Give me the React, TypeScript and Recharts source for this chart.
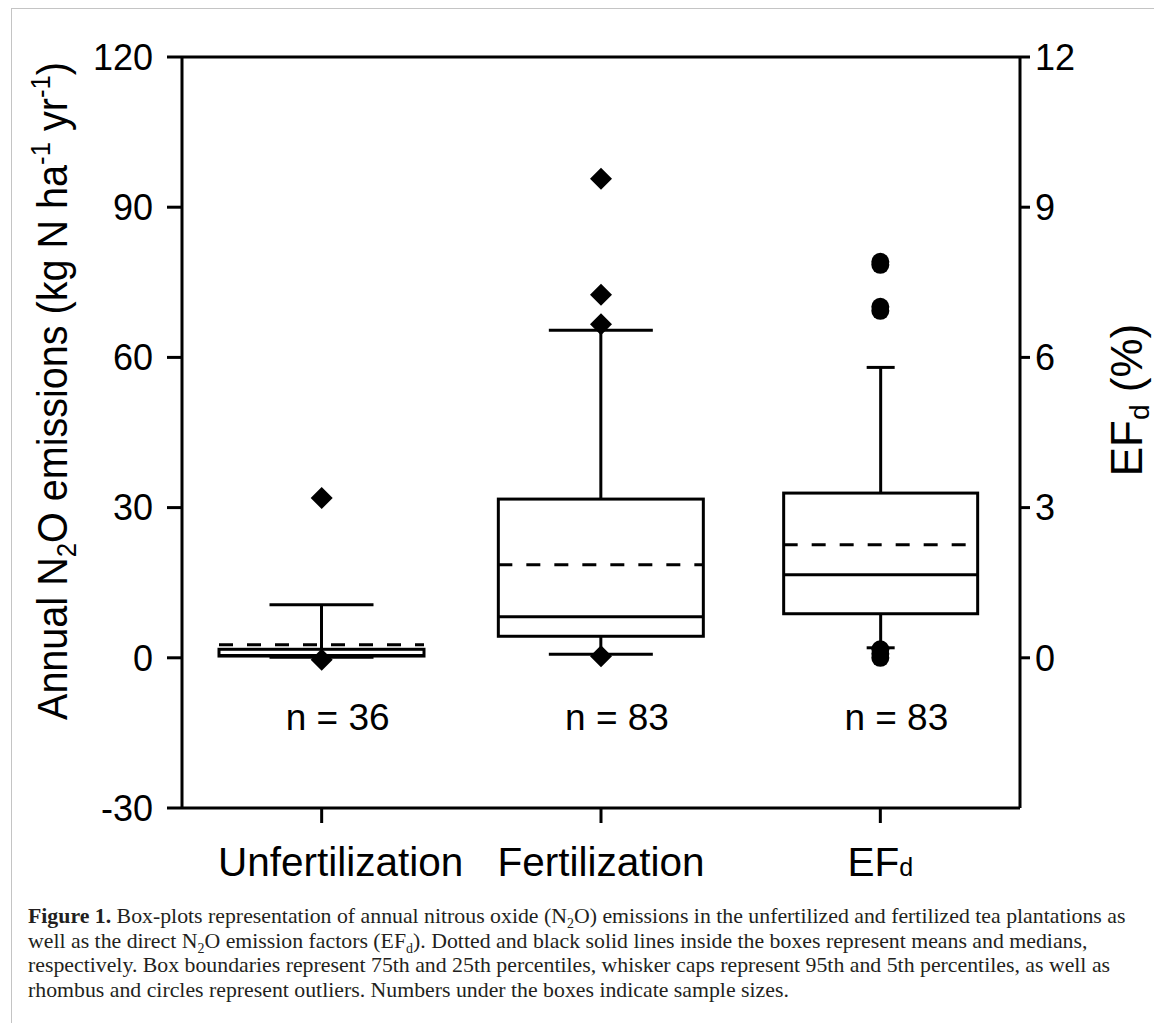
import React from 'react';
import { ComposedChart, Bar, Scatter, XAxis, YAxis, ReferenceLine } from 'recharts';

// ---------- data ----------
const categories = ['Unfertilization', 'Fertilization', 'EFd'];
const sampleSizes = [36, 83, 83];

// Annual N2O emissions (kg N ha-1 yr-1), left axis
const emissionCategories = ['Unfertilization', 'Fertilization'];
const emissionP5 = [0.1, 0.7];
const emissionQ1 = [0.35, 4.3];
const emissionMedian = [0.45, 8.2];
const emissionMean = [2.6, 18.6];
const emissionQ3 = [1.7, 31.7];
const emissionP95 = [10.6, 65.4];
const emissionOutliers = [
  [31.9, -0.4],
  [95.7, 72.5, 66.6, 0.3],
];

// EFd (%), right axis
const efP5 = 0.2;
const efQ1 = 0.88;
const efMedian = 1.66;
const efMean = 2.26;
const efQ3 = 3.29;
const efP95 = 5.8;
const efOutliers = [7.91, 7.85, 7.01, 6.93, 0.17, 0.08, 0.0];

const leftTicks = [-30, 0, 30, 60, 90, 120];
const rightTicks = [0, 3, 6, 9, 12];
const nLabelValue = -14.4;

// ---------- derived tables ----------
type Stats = { p5: number; q1: number; median: number; mean: number; q3: number; p95: number };

const chartData = categories.map((c) => {
  const ei = emissionCategories.indexOf(c);
  const emissionStats: Stats | null =
    ei >= 0
      ? {
          p5: emissionP5[ei],
          q1: emissionQ1[ei],
          median: emissionMedian[ei],
          mean: emissionMean[ei],
          q3: emissionQ3[ei],
          p95: emissionP95[ei],
        }
      : null;
  const efStats: Stats | null =
    c === 'EFd' ? { p5: efP5, q1: efQ1, median: efMedian, mean: efMean, q3: efQ3, p95: efP95 } : null;
  return {
    category: c,
    emissionBox: emissionStats ? [emissionStats.q1, emissionStats.q3] : null,
    efBox: efStats ? [efStats.q1, efStats.q3] : null,
    emissionStats,
    efStats,
  };
});

const diamondPoints = emissionCategories.flatMap((c, i) =>
  emissionOutliers[i].map((v) => ({ category: c, value: v }))
);
const circlePoints = efOutliers.map((v) => ({ category: 'EFd', value: v }));
const nLabelPoints = categories.map((c, i) => ({ category: c, value: nLabelValue, n: sampleSizes[i] }));

// ---------- styles ----------
const capWidths: Record<string, number> = { Unfertilization: 104, Fertilization: 104, EFd: 28 };
const tickLabelShift: Record<string, number> = { Unfertilization: 19, Fertilization: 0, EFd: 0 };
const FONT = "'Liberation Sans', Arial, Helvetica, sans-serif";
const LW = 3;

const makeBoxShape = (statsKey: 'emissionStats' | 'efStats') => (props: any) => {
  const { x, y, width, height, payload } = props;
  const s: Stats | null = payload ? payload[statsKey] : null;
  if (!s || width == null || height == null) return <g />;
  const top = Math.min(y, y + height);
  const bottom = Math.max(y, y + height);
  const ppu = (bottom - top) / (s.q3 - s.q1);
  const yOf = (v: number) => bottom - (v - s.q1) * ppu;
  const cx = x + width / 2;
  const cap = capWidths[payload.category] ?? 100;
  return (
    <g>
      <line x1={cx} x2={cx} y1={top} y2={yOf(s.p95)} stroke="#000" strokeWidth={LW} />
      <line x1={cx} x2={cx} y1={bottom} y2={yOf(s.p5)} stroke="#000" strokeWidth={LW} />
      <line x1={cx - cap / 2} x2={cx + cap / 2} y1={yOf(s.p95)} y2={yOf(s.p95)} stroke="#000" strokeWidth={LW} />
      <line x1={cx - cap / 2} x2={cx + cap / 2} y1={yOf(s.p5)} y2={yOf(s.p5)} stroke="#000" strokeWidth={LW} />
      <rect x={x} y={top} width={width} height={bottom - top} fill="#fff" stroke="#000" strokeWidth={LW} />
      <line x1={x} x2={x + width} y1={yOf(s.median)} y2={yOf(s.median)} stroke="#000" strokeWidth={LW} />
      <line
        x1={x}
        x2={x + width}
        y1={yOf(s.mean)}
        y2={yOf(s.mean)}
        stroke="#000"
        strokeWidth={LW}
        strokeDasharray="14 14"
      />
    </g>
  );
};

const DiamondShape = (props: any) => {
  const { cx, cy } = props;
  if (cx == null || cy == null) return <g />;
  const r = 11;
  return <path d={`M${cx},${cy - r} L${cx + r},${cy} L${cx},${cy + r} L${cx - r},${cy} Z`} fill="#000" />;
};

const CircleShape = (props: any) => {
  const { cx, cy } = props;
  if (cx == null || cy == null) return <g />;
  return <circle cx={cx} cy={cy} r={9} fill="#000" />;
};

const NLabelShape = (props: any) => {
  const { cx, cy, payload } = props;
  if (cx == null || cy == null) return <g />;
  return (
    <text x={cx + 16} y={cy} textAnchor="middle" fontSize={37} fill="#000" fontFamily={FONT}>
      {`n = ${payload.n}`}
    </text>
  );
};

const XTick = (props: any) => {
  const { x, y, payload } = props;
  const v = payload.value as string;
  return (
    <text x={x + (tickLabelShift[v] ?? 0)} y={y + 51} textAnchor="middle" fontSize={40.5} fill="#000" fontFamily={FONT}>
      {v === 'EFd' ? (
        <>
          <tspan>EF</tspan>
          <tspan fontSize={25}>d</tspan>
        </>
      ) : (
        v
      )}
    </text>
  );
};

const LeftAxisLabel = (props: any) => {
  const vb = props.viewBox || { x: 0, y: 57 };
  const px = vb.x + 67;
  const py = vb.y + 334;
  return (
    <text
      x={px}
      y={py}
      transform={`rotate(-90 ${px} ${py})`}
      textAnchor="middle"
      fontSize={43}
      fill="#000"
      fontFamily={FONT}
      textLength={658}
      lengthAdjust="spacingAndGlyphs"
    >
      <tspan>Annual N</tspan>
      <tspan fontSize={28} dy={9}>2</tspan>
      <tspan dy={-9}>O emissions (kg N ha</tspan>
      <tspan fontSize={28} dy={-17}>-1</tspan>
      <tspan dy={17}> yr</tspan>
      <tspan fontSize={28} dy={-17}>-1</tspan>
      <tspan dy={17}>)</tspan>
    </text>
  );
};

const RightAxisLabel = (props: any) => {
  const vb = props.viewBox || { x: 1020, y: 57 };
  const px = vb.x + 122;
  const py = vb.y + 343;
  return (
    <text x={px} y={py} transform={`rotate(-90 ${px} ${py})`} textAnchor="middle" fontSize={44} fill="#000" fontFamily={FONT}>
      <tspan>EF</tspan>
      <tspan fontSize={28} dy={7}>d</tspan>
      <tspan dy={-7}> (%)</tspan>
    </text>
  );
};

export default function App() {
  return (
    <div style={{ position: 'absolute', left: 0, top: 0, width: 1154, height: 1023, background: '#fff', overflow: 'hidden' }}>
      <div style={{ position: 'absolute', left: 11, top: 8, width: 1143, height: 1, background: '#c4c4c4' }} />
      <div style={{ position: 'absolute', left: 11, top: 8, width: 1, height: 1015, background: '#c4c4c4' }} />
      <div style={{ position: 'absolute', left: 0, top: 0 }}>
        <ComposedChart
          width={1154}
          height={900}
          data={chartData}
          margin={{ top: 57, right: 0, bottom: 0, left: 0 }}
          style={{ fontFamily: FONT }}
        >
          <XAxis
            xAxisId="main"
            dataKey="category"
            type="category"
            allowDuplicatedCategory={false}
            height={92}
            tickSize={15}
            tickMargin={2}
            axisLine={{ stroke: '#000', strokeWidth: LW }}
            tickLine={{ stroke: '#000', strokeWidth: LW }}
            tick={<XTick />}
            interval={0}
          />
          <XAxis xAxisId="ef" dataKey="category" type="category" allowDuplicatedCategory={false} hide height={0} />
          <YAxis
            yAxisId="left"
            orientation="left"
            type="number"
            domain={[-30, 120]}
            ticks={leftTicks}
            interval={0}
            width={182}
            tickSize={15}
            tickMargin={14}
            axisLine={{ stroke: '#000', strokeWidth: LW }}
            tickLine={{ stroke: '#000', strokeWidth: LW }}
            tick={{ fill: '#000', fontSize: 36, fontFamily: FONT }}
            label={LeftAxisLabel}
          />
          <YAxis
            yAxisId="right"
            orientation="right"
            type="number"
            domain={[-3, 12]}
            ticks={rightTicks}
            interval={0}
            width={134}
            tickSize={10}
            tickMargin={5}
            axisLine={{ stroke: '#000', strokeWidth: LW }}
            tickLine={{ stroke: '#000', strokeWidth: LW }}
            tick={{ fill: '#000', fontSize: 36, fontFamily: FONT }}
            label={RightAxisLabel}
          />
          <ReferenceLine xAxisId="main" yAxisId="left" y={120} stroke="#000" strokeWidth={LW} />
          <Bar
            xAxisId="main"
            yAxisId="left"
            dataKey="emissionBox"
            barSize={205}
            shape={makeBoxShape('emissionStats')}
            isAnimationActive={false}
          />
          <Bar
            xAxisId="ef"
            yAxisId="right"
            dataKey="efBox"
            barSize={194}
            shape={makeBoxShape('efStats')}
            isAnimationActive={false}
          />
          <Scatter
            xAxisId="main"
            yAxisId="left"
            data={diamondPoints}
            dataKey="value"
            shape={<DiamondShape />}
            isAnimationActive={false}
          />
          <Scatter
            xAxisId="ef"
            yAxisId="right"
            data={circlePoints}
            dataKey="value"
            shape={<CircleShape />}
            isAnimationActive={false}
          />
          <Scatter
            xAxisId="main"
            yAxisId="left"
            data={nLabelPoints}
            dataKey="value"
            shape={<NLabelShape />}
            isAnimationActive={false}
          />
        </ComposedChart>
      </div>
      <div
        style={{
          position: 'absolute',
          left: 28,
          top: 904,
          fontFamily: "'Liberation Serif', 'Times New Roman', serif",
          fontSize: 21.8,
          lineHeight: '24.7px',
          color: '#231f20',
          whiteSpace: 'nowrap',
        }}
      >
        <b>Figure 1.</b> Box-plots representation of annual nitrous oxide (N<sub style={{ fontSize: 14, lineHeight: 0 }}>2</sub>O) emissions in the unfertilized and fertilized tea plantations as
        <br />
        well as the direct N<sub style={{ fontSize: 14, lineHeight: 0 }}>2</sub>O emission factors (EF<sub style={{ fontSize: 14, lineHeight: 0 }}>d</sub>). Dotted and black solid lines inside the boxes represent means and medians,
        <br />
        respectively. Box boundaries represent 75th and 25th percentiles, whisker caps represent 95th and 5th percentiles, as well as
        <br />
        rhombus and circles represent outliers. Numbers under the boxes indicate sample sizes.
      </div>
    </div>
  );
}
